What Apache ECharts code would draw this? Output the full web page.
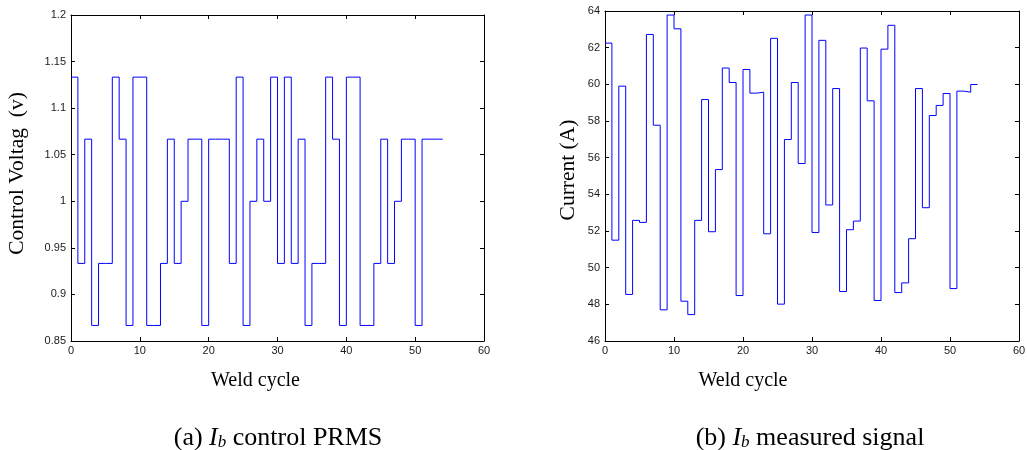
<!DOCTYPE html>
<html>
<head>
<meta charset="utf-8">
<script src="https://cdn.jsdelivr.net/npm/echarts@6/dist/echarts.min.js"></script>
<style>
  html, body { margin: 0; padding: 0; background: #ffffff; }
  #chart { width: 1027px; height: 450px; }
</style>
</head>
<body>
<div id="chart"></div>
<script>
// Tick positions for both panels
const cycleTicks = [0, 10, 20, 30, 40, 50, 60];
const voltageTicks = [0.85, 0.9, 0.95, 1, 1.05, 1.1, 1.15, 1.2];
const currentTicks = [46, 48, 50, 52, 54, 56, 58, 60, 62, 64];

// (a) PRMS control voltage, one level per weld cycle (cycles 0..53)
const controlVoltage = [
  1.1333, 0.9333, 1.0667, 0.8667, 0.9333, 0.9333, 1.1333, 1.0667, 0.8667, 1.1333,
  1.1333, 0.8667, 0.8667, 0.9333, 1.0667, 0.9333, 1.0, 1.0667, 1.0667, 0.8667,
  1.0667, 1.0667, 1.0667, 0.9333, 1.1333, 0.8667, 1.0, 1.0667, 1.0, 1.1333,
  0.9333, 1.1333, 0.9333, 1.0667, 0.8667, 0.9333, 0.9333, 1.1333, 1.0667, 0.8667,
  1.1333, 1.1333, 0.8667, 0.8667, 0.9333, 1.0667, 0.9333, 1.0, 1.0667, 1.0667,
  0.8667, 1.0667, 1.0667, 1.0667
];

// (b) measured base current per weld cycle (cycles 0..53)
const measuredCurrent = [
  62.25, 51.5, 59.9, 48.54, 52.58, 52.47, 62.72, 57.77, 47.70, 63.78,
  63.03, 48.17, 47.44, 52.58, 59.17, 51.96, 55.35, 60.89, 60.10, 48.48,
  60.81, 59.52, 59.57, 51.85, 62.51, 48.01, 56.99, 60.10, 55.68, 63.78,
  51.92, 62.40, 53.42, 59.77, 48.70, 52.07, 52.54, 61.98, 59.10, 48.21,
  61.92, 63.22, 48.64, 49.17, 51.58, 59.77, 53.27, 58.30, 58.85, 59.50,
  48.86, 59.63, 59.57, 59.99
];

// Each cycle holds its value over [k, k+1]; close the last step at the end.
function stepPoints(values) {
  const pts = values.map((v, i) => [i, v]);
  pts.push([values.length, values[values.length - 1]]);
  return pts;
}

const serif = 'Liberation Serif, Times New Roman, serif';
const sans = 'Liberation Sans, Arial, Helvetica, sans-serif';

function rangeOf(ticks) {
  return { min: ticks[0], max: ticks[ticks.length - 1], interval: ticks[1] - ticks[0] };
}

function tickText(v) {
  return String(Number(v.toFixed(4)));
}

function axis(kind, gridIndex, position, ticks, withLabels) {
  const r = rangeOf(ticks);
  return {
    type: 'value',
    gridIndex: gridIndex,
    position: position,
    min: r.min,
    max: r.max,
    interval: r.interval,
    axisLine: { show: true, onZero: false, lineStyle: { color: '#000000', width: 1 } },
    axisTick: { show: true, inside: true, length: 4, lineStyle: { color: '#000000', width: 1 } },
    axisLabel: {
      show: withLabels,
      margin: kind === 'x' ? 4 : 5,
      color: '#1a1a1a',
      fontFamily: sans,
      fontSize: 11,
      formatter: tickText
    },
    splitLine: { show: false }
  };
}

const captionRich = {
  i: { fontFamily: serif, fontSize: 26, fontStyle: 'italic', color: '#000', lineHeight: 30, verticalAlign: 'bottom' },
  sub: { fontFamily: serif, fontSize: 17, fontStyle: 'italic', color: '#000', lineHeight: 14, verticalAlign: 'bottom' },
  t: { fontFamily: serif, fontSize: 26, color: '#000', lineHeight: 30, verticalAlign: 'bottom' }
};

const chart = echarts.init(document.getElementById('chart'), null, { renderer: 'canvas' });

chart.setOption({
  animation: false,
  backgroundColor: '#ffffff',
  grid: [
    { left: 71, top: 15, width: 413, height: 326, containLabel: false, outerBoundsMode: 'none' },
    { left: 605, top: 11, width: 414, height: 330, containLabel: false, outerBoundsMode: 'none' }
  ],
  xAxis: [
    axis('x', 0, 'bottom', cycleTicks, true),
    axis('x', 0, 'top', cycleTicks, false),
    axis('x', 1, 'bottom', cycleTicks, true),
    axis('x', 1, 'top', cycleTicks, false)
  ],
  yAxis: [
    axis('y', 0, 'left', voltageTicks, true),
    axis('y', 0, 'right', voltageTicks, false),
    axis('y', 1, 'left', currentTicks, true),
    axis('y', 1, 'right', currentTicks, false)
  ],
  series: [
    {
      type: 'line',
      xAxisIndex: 0,
      yAxisIndex: 0,
      step: 'end',
      data: stepPoints(controlVoltage),
      showSymbol: false,
      silent: true,
      lineStyle: { color: '#0000ff', width: 1 }
    },
    {
      type: 'line',
      xAxisIndex: 2,
      yAxisIndex: 2,
      step: 'end',
      data: stepPoints(measuredCurrent),
      showSymbol: false,
      silent: true,
      lineStyle: { color: '#0000ff', width: 1 }
    }
  ],
  graphic: [
    {
      type: 'text', x: 17.5, y: 173.5, rotation: Math.PI / 2,
      style: { text: 'Control Voltag  (v)', font: '21.5px ' + serif, fill: '#000', align: 'center', verticalAlign: 'middle' }
    },
    {
      type: 'text', x: 568, y: 170, rotation: Math.PI / 2,
      style: { text: 'Current (A)', font: '21.5px ' + serif, fill: '#000', align: 'center', verticalAlign: 'middle' }
    },
    {
      type: 'text', x: 255.5, y: 381,
      style: { text: 'Weld cycle', font: '20px ' + serif, fill: '#000', align: 'center', verticalAlign: 'middle' }
    },
    {
      type: 'text', x: 743, y: 381,
      style: { text: 'Weld cycle', font: '20px ' + serif, fill: '#000', align: 'center', verticalAlign: 'middle' }
    },
    {
      type: 'text', x: 278, y: 436,
      style: { text: '{t|(a) }{i|I}{sub|b}{t| control PRMS}', rich: captionRich, align: 'center', verticalAlign: 'middle' }
    },
    {
      type: 'text', x: 810, y: 436,
      style: { text: '{t|(b) }{i|I}{sub|b}{t| measured signal}', rich: captionRich, align: 'center', verticalAlign: 'middle' }
    }
  ]
});
</script>
</body>
</html>
